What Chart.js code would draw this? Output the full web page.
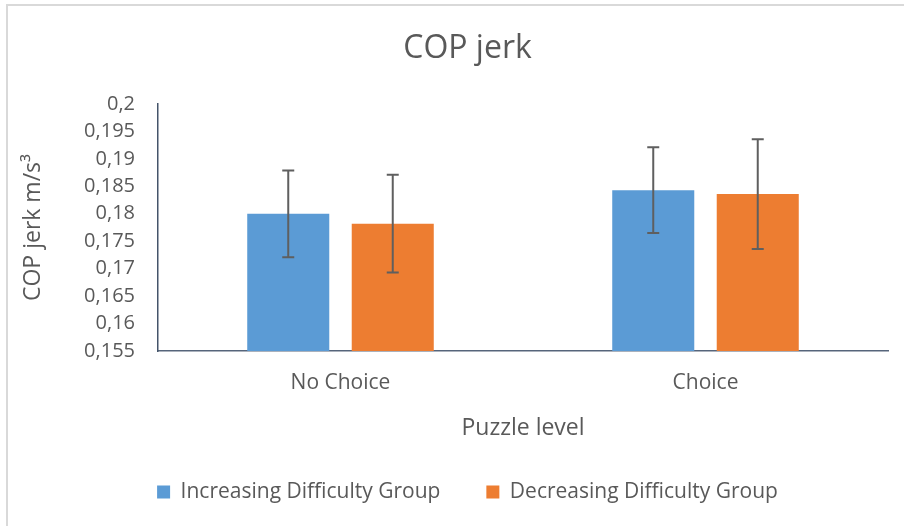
<!DOCTYPE html>
<html>
<head>
<meta charset="utf-8">
<title>COP jerk</title>
<script src="https://cdn.jsdelivr.net/npm/chart.js@4/dist/chart.umd.min.js"></script>
<style>
    html, body { margin: 0; padding: 0; background: #fff; }
    #wrap { position: relative; width: 904px; height: 526px; overflow: hidden; }
    #frame {
        position: absolute; left: 6px; top: 4px; width: 1000px; height: 600px;
        border-left: 2px solid #d9d9d9; border-top: 2px solid #d9d9d9;
    }
    #chart { position: absolute; left: 0; top: 0; }
</style>
</head>
<body>
<div id="wrap">
    <div id="frame"></div>
    <canvas id="chart" width="904" height="526"></canvas>
</div>
<script>
// Data
const categories = ['No Choice', 'Choice'];
const seriesNames = ['Increasing Difficulty Group', 'Decreasing Difficulty Group'];
const increasingMeans = [0.1800, 0.1843];
const increasingErr = [0.0079, 0.0078];
const decreasingMeans = [0.1782, 0.1836];
const decreasingErr = [0.0089, 0.0100];
const yTicks = [0.155, 0.16, 0.165, 0.17, 0.175, 0.18, 0.185, 0.19, 0.195, 0.2];

const textColor = '#595959';
const fontFamily = '"Open Sans", sans-serif';

// Error bars drawn through the y scale
const errorBars = {
    id: 'errorBars',
    afterDatasetsDraw(chart) {
        const ctx = chart.ctx;
        const yScale = chart.scales.y;
        ctx.save();
        ctx.strokeStyle = '#5f5f5f';
        ctx.lineWidth = 2;
        chart.data.datasets.forEach((ds, i) => {
            const meta = chart.getDatasetMeta(i);
            meta.data.forEach((bar, j) => {
                const mean = ds.data[j];
                const err = ds.errors[j];
                const yTop = yScale.getPixelForValue(mean + err);
                const yBot = yScale.getPixelForValue(mean - err);
                const cap = 6;
                ctx.beginPath();
                ctx.moveTo(bar.x, yTop);
                ctx.lineTo(bar.x, yBot);
                ctx.moveTo(bar.x - cap, yTop);
                ctx.lineTo(bar.x + cap, yTop);
                ctx.moveTo(bar.x - cap, yBot);
                ctx.lineTo(bar.x + cap, yBot);
                ctx.stroke();
            });
        });
        ctx.restore();
    }
};

const ctx = document.getElementById('chart').getContext('2d');
new Chart(ctx, {
    type: 'bar',
    data: {
        labels: categories,
        datasets: [
            {
                label: seriesNames[0],
                data: increasingMeans,
                errors: increasingErr,
                backgroundColor: '#5b9bd5',
                categoryPercentage: 0.5726,
                barPercentage: 0.785
            },
            {
                label: seriesNames[1],
                data: decreasingMeans,
                errors: decreasingErr,
                backgroundColor: '#ed7d31',
                categoryPercentage: 0.5726,
                barPercentage: 0.785
            }
        ]
    },
    options: {
        responsive: false,
        animation: false,
        layout: { padding: { left: 47, right: 16, top: 0, bottom: 13.5 } },
        plugins: {
            tooltip: { enabled: false },
            title: {
                display: true,
                text: 'COP jerk',
                color: textColor,
                font: { family: fontFamily, size: 32, weight: 'normal', lineHeight: 1.2 },
                padding: { top: 30, bottom: 35.6 }
            },
            legend: {
                position: 'bottom',
                labels: {
                    color: textColor,
                    font: { family: fontFamily, size: 21 },
                    boxWidth: 13,
                    boxHeight: 13,
                    padding: 46
                }
            }
        },
        scales: {
            x: {
                grid: { display: false, drawTicks: false },
                border: { display: true, color: '#56657b', width: 1.5 },
                ticks: {
                    color: textColor,
                    font: { family: fontFamily, size: 21 },
                    padding: 19.4
                },
                title: {
                    display: true,
                    text: 'Puzzle level',
                    color: textColor,
                    font: { family: fontFamily, size: 23, lineHeight: 1.2 },
                    padding: { top: 0, bottom: -6.3 }
                },
                afterFit(scale) { scale.height = 84.5; }
            },
            y: {
                min: yTicks[0],
                max: yTicks[yTicks.length - 1],
                grid: { display: false, drawTicks: false },
                border: { display: true, color: '#44546a', width: 1.5 },
                afterBuildTicks(scale) {
                    scale.ticks = yTicks.map(v => ({ value: v }));
                },
                ticks: {
                    autoSkip: false,
                    color: textColor,
                    font: { family: fontFamily, size: 20 },
                    padding: 23,
                    callback: (v) => Number(v).toFixed(3).replace(/0+$/, '').replace('.', ',')
                },
                title: {
                    display: true,
                    text: 'COP jerk m/s³',
                    color: textColor,
                    font: { family: fontFamily, size: 23, lineHeight: 1.2 },
                    padding: { top: -27.8, bottom: 0 }
                },
                afterFit(scale) { scale.width = 111; }
            }
        }
    },
    plugins: [errorBars]
});
</script>
</body>
</html>
